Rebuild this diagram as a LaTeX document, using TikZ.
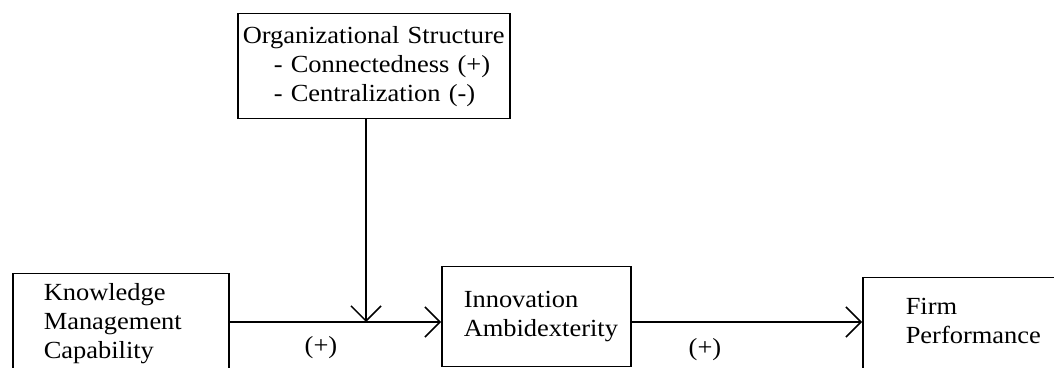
\documentclass[tikz,border=0pt]{standalone}
\usepackage{fontspec}
\setmainfont{Liberation Serif}[FakeStretch=1.075]
\usetikzlibrary{arrows.meta}

\tikzset{
	varbox/.style={draw, line width=0.75pt, anchor=north west, align=left, inner ysep=0pt,
		font=\fontsize{12.3}{14.5}\selectfont},
	link/.style={line width=0.75pt, -{Straight Barb[length=7.5pt,width=15pt]}},
	sign/.style={font=\fontsize{12.3}{14.5}\selectfont}
}

\begin{document}
\begin{tikzpicture}[x=0.5pt, y=-0.5pt]
	\clip (0,0) rectangle (1054,368);
	% variables
	\node[varbox, text width=77pt, inner xsep=15.5pt, minimum height=50pt] (km) at (12,273)
		{Knowledge\\Management\\Capability};
	\node[varbox, text width=72.5pt, inner xsep=11pt, minimum height=50pt] (ia) at (441,266)
		{Innovation\\Ambidexterity};
	\node[varbox, text width=100pt, inner xsep=21.5pt, minimum height=56.5pt] (fp) at (862,277)
		{Firm\\Performance\rule[-13.5pt]{0pt}{13.5pt}};
	\node[varbox, text width=131pt, inner xsep=2.5pt, minimum height=52.5pt] (os) at (237,13)
		{Organizational Structure\\\hspace*{15.5pt}- Connectedness (+)\\\hspace*{15.5pt}- Centralization (-)};
	% moderating effect meets the main path here
	\coordinate (j1) at (366,322);
	\draw[link] (km.east |- j1) -- (ia.west |- j1);
	\draw[link] (ia.east |- j1) -- (fp.west |- j1);
	\draw[link] (os.south -| j1) -- (j1);
	\node[sign] (lab1) at (321,348) {(+)};
	\node[sign] (lab2) at (705,350) {(+)};
\end{tikzpicture}
\end{document}
